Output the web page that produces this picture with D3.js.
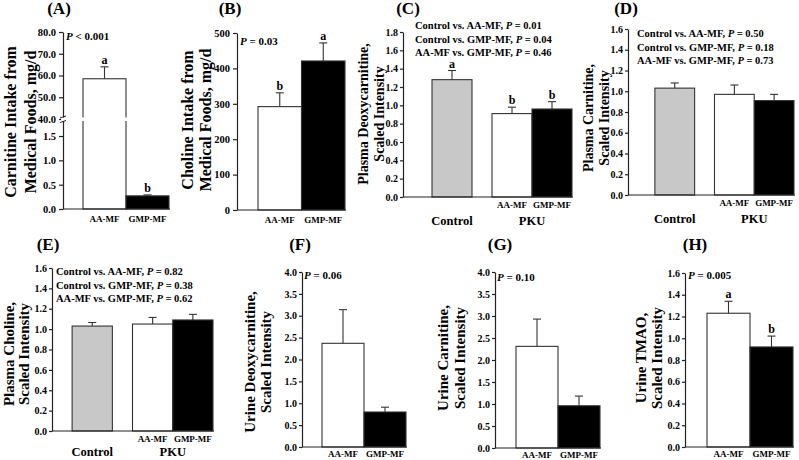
<!DOCTYPE html>
<html><head><meta charset="utf-8">
<script src="https://cdn.jsdelivr.net/npm/d3@7/dist/d3.min.js"></script>
<style>
body{margin:0;background:#fff}
svg{display:block;font-family:"Liberation Serif","Times New Roman",serif;font-weight:bold}
</style>
</head><body>
<svg id="c" width="799" height="460"></svg>
<script>
// ---------- data ----------
const twoCats = ["AA-MF", "GMP-MF"];
const threeCats = ["Control", "AA-MF", "GMP-MF"];
const groups = ["Control", "PKU"];
const pkuCats = ["AA-MF", "GMP-MF"];

const carnitineIntake = [58.5, 0.27];
const carnitineIntakeSE = [5.5, 0.02];
const cholineIntake = [292, 421];
const cholineIntakeSE = [39, 51];
const plasmaDeoxy = [1.28, 0.91, 0.96];
const plasmaDeoxySE = [0.10, 0.07, 0.08];
const plasmaCarnitine = [1.03, 0.97, 0.91];
const plasmaCarnitineSE = [0.05, 0.09, 0.06];
const plasmaCholine = [1.03, 1.05, 1.09];
const plasmaCholineSE = [0.035, 0.065, 0.055];
const urineDeoxy = [2.37, 0.80];
const urineDeoxySE = [0.77, 0.11];
const urineCarnitine = [2.31, 0.96];
const urineCarnitineSE = [0.62, 0.22];
const urineTMAO = [1.23, 0.92];
const urineTMAOSE = [0.11, 0.10];

const lettersA = ["a", "b"];
const lettersB = ["b", "a"];
const lettersC = ["a", "b", "b"];
const lettersH = ["a", "b"];

const compC = [["Control vs. AA-MF", "0.01"], ["Control vs. GMP-MF", "0.04"], ["AA-MF vs. GMP-MF", "0.46"]];
const compD = [["Control vs. AA-MF", "0.50"], ["Control vs. GMP-MF", "0.18"], ["AA-MF vs. GMP-MF", "0.73"]];
const compE = [["Control vs. AA-MF", "0.82"], ["Control vs. GMP-MF", "0.38"], ["AA-MF vs. GMP-MF", "0.62"]];

const ticksAUpper = [40, 50, 60, 70, 80];
const ticksALower = [0, 0.5, 1.0, 1.5];
const ticksB = [0, 100, 200, 300, 400, 500];
const ticks18 = [0, 0.2, 0.4, 0.6, 0.8, 1.0, 1.2, 1.4, 1.6, 1.8];
const ticks16 = [0, 0.2, 0.4, 0.6, 0.8, 1.0, 1.2, 1.4, 1.6];
const ticks4 = [0, 0.5, 1.0, 1.5, 2.0, 2.5, 3.0, 3.5, 4.0];

// ---------- drawing ----------
const svg = d3.select("#c");
const FONT = '"Liberation Serif","Times New Roman",serif';
const fillOf = {"Control": "#c8c8c8", "AA-MF": "#ffffff", "GMP-MF": "#000000"};
const STROKE = "#333";

function styleAxis(size) {
  return g => {
    g.attr("font-family", FONT).attr("font-size", size).attr("font-weight", "bold");
    g.selectAll("path,line").attr("stroke", "#222").attr("stroke-width", 1.2);
    g.selectAll("text").attr("fill", "#000");
  };
}
function title(txt, x, y) {
  svg.append("text").attr("x", x).attr("y", y).attr("text-anchor", "middle")
    .attr("font-size", 17).text(txt);
}
function yLabel(lines, cx, cy, size, gap) {
  lines.forEach((s, i) => svg.append("text")
    .attr("transform", `translate(${cx + i * gap},${cy}) rotate(-90)`)
    .attr("text-anchor", "middle").attr("dy", "0.35em")
    .attr("font-size", size).text(s));
}
function pText(x, y, pre, rel, val, size) {
  const t = svg.append("text").attr("x", x).attr("y", y).attr("font-size", size);
  if (pre) t.append("tspan").text(pre);
  t.append("tspan").attr("font-style", "italic").text("P");
  t.append("tspan").text(` ${rel} ${val}`);
}
function bars(g, cats, vals, se, letters, xOf, wOf, yTop, yBase) {
  cats.forEach((c, i) => {
    const x = xOf(c, i), w = wOf(c, i);
    const top = yTop(vals[i]);
    g.append("rect").attr("x", x).attr("y", top).attr("width", w).attr("height", yBase - top)
      .attr("fill", fillOf[c]).attr("stroke", STROKE).attr("stroke-width", 1.1);
    const et = yTop(vals[i] + se[i]);
    const cx = x + w / 2;
    g.append("line").attr("x1", cx).attr("x2", cx).attr("y1", top).attr("y2", et)
      .attr("stroke", STROKE).attr("stroke-width", 1.1);
    g.append("line").attr("x1", cx - 4).attr("x2", cx + 4).attr("y1", et).attr("y2", et)
      .attr("stroke", STROKE).attr("stroke-width", 1.1);
    if (letters) g.append("text").attr("x", cx).attr("y", et - 3).attr("text-anchor", "middle")
      .attr("font-size", 12).text(letters[i]);
  });
}
function catLabels(g, items, y, size) {
  items.forEach(([t, x]) => g.append("text").attr("x", x).attr("y", y)
    .attr("text-anchor", "middle").attr("font-size", size).text(t));
}

// Two-bar panel
function twoPanel(o) {
  const g = svg.append("g");
  const y = d3.scaleLinear().domain([0, o.ymax]).range([o.y0, o.y1]);
  const x = d3.scaleBand().domain(twoCats).range(o.bars).padding(0);
  g.append("g").attr("transform", `translate(${o.ax},0)`)
    .call(d3.axisLeft(y).tickValues(o.ticks).tickFormat(d3.format(o.fmt)).tickSize(o.tk).tickSizeOuter(0).tickPadding(o.tp))
    .call(styleAxis(o.tf));
  bars(g, twoCats, o.vals, o.se, o.letters, c => x(c), () => x.bandwidth(), y, y(0));
  g.append("line").attr("x1", o.ax).attr("x2", o.bars[1] + 1).attr("y1", y(0)).attr("y2", y(0))
    .attr("stroke", "#222").attr("stroke-width", 1.2);
  catLabels(g, twoCats.map(c => [c, x(c) + x.bandwidth() / 2]), y(0) + o.labOff, 9);
}

// Three-bar panel (Control + PKU group)
function threePanel(o) {
  const g = svg.append("g");
  const y = d3.scaleLinear().domain([0, o.ymax]).range([o.y0, o.y1]);
  const xg = d3.scaleBand().domain(groups).range(o.groupRange).padding(0);
  const xi = d3.scaleBand().domain(pkuCats).range([xg("PKU"), xg("PKU") + xg.bandwidth()]).padding(0);
  g.append("g").attr("transform", `translate(${o.ax},0)`)
    .call(d3.axisLeft(y).tickValues(o.ticks).tickFormat(d3.format(".1f")).tickSize(3).tickSizeOuter(0).tickPadding(2))
    .call(styleAxis(10));
  const xOf = c => c === "Control" ? xg("Control") + xg.bandwidth() / 4 : xi(c);
  const wOf = c => c === "Control" ? xg.bandwidth() / 2 : xi.bandwidth();
  bars(g, threeCats, o.vals, o.se, o.letters, xOf, wOf, y, y(0));
  g.append("line").attr("x1", o.ax).attr("x2", o.groupRange[1] + 1).attr("y1", y(0)).attr("y2", y(0))
    .attr("stroke", "#222").attr("stroke-width", 1.2);
  catLabels(g, pkuCats.map(c => [c, xi(c) + xi.bandwidth() / 2]), y(0) + 11, 9);
  catLabels(g, groups.map(c => [c, xg(c) + xg.bandwidth() / 2]), y(0) + o.grpOff, 12.5);
  o.comps.forEach(([pair, p], i) => pText(o.compX, o.compY + i * 13.5, pair + ", ", "=", p, 10.5));
}

// ---------- Panel A (broken axis) ----------
(function () {
  const g = svg.append("g");
  const ax = 63, brk = 119;
  const yLow = d3.scaleLinear().domain([0, 1.85]).range([209, brk]);
  const yHigh = d3.scaleLinear().domain([40, 80]).range([brk, 32]);
  const yAny = v => v >= 40 ? yHigh(v) : yLow(v);
  const x = d3.scaleBand().domain(twoCats).range([83, 169]).padding(0);
  g.append("g").attr("transform", `translate(${ax},0)`)
    .call(d3.axisLeft(yHigh).tickValues(ticksAUpper).tickFormat(d3.format(".1f")).tickSize(4).tickSizeOuter(0).tickPadding(3))
    .call(styleAxis(10.5));
  g.append("g").attr("transform", `translate(${ax},0)`)
    .call(d3.axisLeft(yLow).tickValues(ticksALower).tickFormat(d3.format(".1f")).tickSize(4).tickSizeOuter(0).tickPadding(3))
    .call(styleAxis(10.5));
  bars(g, twoCats, carnitineIntake, carnitineIntakeSE, lettersA, c => x(c), () => x.bandwidth(), yAny, yLow(0));
  // break gap
  g.append("rect").attr("x", ax - 2).attr("y", brk - 1.5).attr("width", 70).attr("height", 3.5).attr("fill", "#fff");
  [brk - 2, brk + 2.5].forEach(yy => g.append("line").attr("x1", ax - 3).attr("x2", ax + 3)
    .attr("y1", yy + 1).attr("y2", yy - 1).attr("stroke", "#222").attr("stroke-width", 1));
  g.append("line").attr("x1", ax).attr("x2", 170).attr("y1", yLow(0)).attr("y2", yLow(0))
    .attr("stroke", "#222").attr("stroke-width", 1.2);
  catLabels(g, twoCats.map(c => [c, x(c) + x.bandwidth() / 2]), yLow(0) + 13, 9);
  pText(66, 40, "", "<", "0.001", 11);
})();

twoPanel({ax: 237, y0: 210, y1: 33, ymax: 500, ticks: ticksB, fmt: "d", bars: [258, 345],
  vals: cholineIntake, se: cholineIntakeSE, letters: lettersB, labOff: 13, tf: 10.5, tk: 4, tp: 3});
pText(240, 45, "", "=", "0.03", 11);

threePanel({ax: 403, y0: 197, y1: 32, ymax: 1.8, ticks: ticks18, groupRange: [412, 572],
  vals: plasmaDeoxy, se: plasmaDeoxySE, letters: lettersC, comps: compC, compX: 415, compY: 29, grpOff: 28});
threePanel({ax: 628, y0: 195, y1: 29, ymax: 1.6, ticks: ticks16, groupRange: [635, 794],
  vals: plasmaCarnitine, se: plasmaCarnitineSE, letters: null, comps: compD, compX: 637, compY: 37, grpOff: 28});
threePanel({ax: 52, y0: 431, y1: 268, ymax: 1.6, ticks: ticks16, groupRange: [52, 213],
  vals: plasmaCholine, se: plasmaCholineSE, letters: null, comps: compE, compX: 56, compY: 275, grpOff: 25});

twoPanel({ax: 302, y0: 447, y1: 272, ymax: 4, ticks: ticks4, fmt: ".1f", bars: [322, 406],
  vals: urineDeoxy, se: urineDeoxySE, letters: null, labOff: 10, tf: 10, tk: 3, tp: 2});
pText(304, 279, "", "=", "0.06", 11);
twoPanel({ax: 495, y0: 448, y1: 272, ymax: 4, ticks: ticks4, fmt: ".1f", bars: [516, 600],
  vals: urineCarnitine, se: urineCarnitineSE, letters: null, labOff: 10, tf: 10, tk: 3, tp: 2});
pText(497, 281, "", "=", "0.10", 11);
twoPanel({ax: 685, y0: 447, y1: 273, ymax: 1.6, ticks: ticks16, fmt: ".1f", bars: [707, 793],
  vals: urineTMAO, se: urineTMAOSE, letters: lettersH, labOff: 10, tf: 10, tk: 3, tp: 2});
pText(688, 279, "", "=", "0.005", 11);

// titles
title("(A)", 59, 14); title("(B)", 230, 14); title("(C)", 408, 14); title("(D)", 626, 14);
title("(E)", 48, 250); title("(F)", 300, 250); title("(G)", 500, 250); title("(H)", 695, 250);

// y-axis labels
yLabel(["Carnitine Intake from", "Medical Foods, mg/d"], 10, 122, 16, 20);
yLabel(["Choline Intake from", "Medical Foods, mg/d"], 187, 120, 16, 18);
yLabel(["Plasma Deoxycarnitine,", "Scaled Intensity"], 363, 114, 14, 16);
yLabel(["Plasma Carnitine,", "Scaled Intensity"], 588, 118, 14, 16);
yLabel(["Plasma Choline,", "Scaled Intensity"], 9, 354, 15, 15);
yLabel(["Urine Deoxycarnitine,", "Scaled Intensity"], 250, 362, 15, 16);
yLabel(["Urine Carnitine,", "Scaled Intensity"], 443, 358, 15, 17);
yLabel(["Urine TMAO,", "Scaled Intensity"], 641, 358, 15, 16);
</script>
</body></html>
